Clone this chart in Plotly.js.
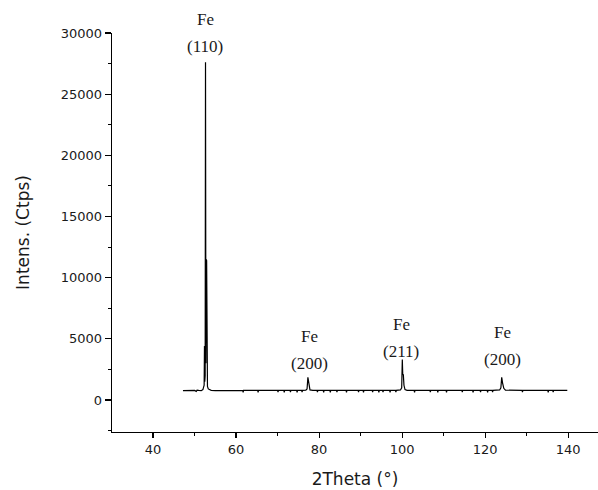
<!DOCTYPE html>
<html>
<head>
<meta charset="utf-8">
<script src="https://cdn.plot.ly/plotly-3.0.1.min.js"></script>
<style>html,body{margin:0;padding:0;background:#fff;}#chart{width:598px;height:490px;}</style>
</head>
<body>
<div id="chart"></div>
<script>
// 2Theta (degrees) and intensity (counts per second)
var twoTheta = [47.2, 48.0, 49.0, 50.0, 50.4, 50.6, 51.0, 51.6, 52.0, 52.2, 52.3, 52.38, 52.45, 52.55, 52.63, 52.72, 52.82, 52.9, 52.98, 53.1, 53.3, 53.6, 54.0, 55.0, 56.0, 58.0, 60.0, 61.6, 61.7, 61.8, 63.0, 65.2, 65.3, 65.4, 67.0, 69.0, 70.0, 70.1, 70.2, 71.5, 71.6, 71.7, 73.0, 73.1, 73.2, 74.6, 74.7, 74.8, 75.8, 75.9, 76.0, 76.8, 77.1, 77.3, 77.45, 77.6, 77.8, 78.5, 79.5, 79.6, 79.7, 81.0, 81.1, 81.2, 82.6, 82.7, 82.8, 84.2, 84.3, 84.4, 86.5, 86.6, 86.7, 88.0, 89.4, 89.5, 89.6, 90.6, 90.7, 90.8, 92.0, 92.8, 92.9, 93.0, 94.3, 94.4, 94.5, 95.3, 95.4, 95.5, 96.5, 97.0, 97.1, 97.2, 98.4, 98.5, 98.6, 99.2, 99.6, 99.9, 100.05, 100.15, 100.3, 100.45, 100.7, 101.2, 102.0, 102.9, 103.0, 103.1, 104.5, 106.7, 106.8, 106.9, 108.5, 108.6, 108.7, 110.6, 110.7, 110.8, 112.5, 114.4, 114.5, 114.6, 116.0, 117.0, 117.1, 117.2, 118.8, 118.9, 119.0, 120.5, 120.6, 120.7, 121.7, 121.8, 121.9, 122.8, 123.5, 123.8, 124.0, 124.2, 124.5, 124.9, 126.0, 127.5, 128.9, 129.0, 129.1, 131.0, 133.0, 135.1, 135.2, 135.3, 136.3, 136.4, 136.5, 138.0, 139.8];
var intensity = [770, 780, 775, 780, 700, 800, 780, 760, 850, 1000, 1200, 4400, 1500, 2000, 27600, 3000, 11500, 11400, 1500, 1100, 900, 820, 780, 770, 780, 775, 780, 780, 620, 780, 775, 780, 630, 780, 775, 780, 780, 640, 780, 780, 620, 780, 780, 640, 780, 780, 620, 780, 780, 650, 780, 800, 900, 1850, 1500, 1000, 820, 780, 780, 640, 780, 780, 620, 780, 780, 630, 780, 780, 640, 780, 780, 620, 780, 775, 780, 640, 780, 780, 630, 780, 780, 780, 640, 780, 780, 620, 780, 780, 650, 780, 780, 780, 620, 780, 780, 640, 780, 800, 820, 1000, 3300, 2100, 2050, 1200, 850, 790, 780, 780, 630, 780, 775, 780, 640, 780, 780, 620, 780, 780, 630, 780, 780, 780, 640, 780, 775, 780, 630, 780, 780, 640, 780, 780, 620, 780, 780, 640, 780, 780, 820, 1000, 1850, 1400, 950, 800, 780, 775, 780, 640, 780, 780, 775, 780, 630, 780, 780, 640, 780, 775, 780];

// Peak labels
var phaseLabels = ['Fe', 'Fe', 'Fe', 'Fe'];
var planeLabels = ['(110)', '(200)', '(211)', '(200)'];
var labelX = [52.6, 77.8, 99.8, 124.3];
var labelY = [28860, 3020, 4000, 3270];

var xTickVals = [40, 60, 80, 100, 120, 140];
var yTickVals = [0, 5000, 10000, 15000, 20000, 25000, 30000];

var labelFont = {family: 'Liberation Serif, Times New Roman, serif', size: 17, color: '#1a1a1a'};
var annotations = [];
for (var i = 0; i < labelX.length; i++) {
  annotations.push({x: labelX[i], y: labelY[i], xref: 'x', yref: 'y', text: phaseLabels[i],
    yshift: 27, showarrow: false, font: labelFont});
  annotations.push({x: labelX[i], y: labelY[i], xref: 'x', yref: 'y', text: planeLabels[i],
    showarrow: false, font: labelFont});
}

var trace = {
  x: twoTheta, y: intensity, type: 'scatter', mode: 'lines',
  line: {color: '#000', width: 1.2}, hoverinfo: 'skip'
};

var axisFont = {family: 'DejaVu Sans, sans-serif', size: 13, color: '#1a1a1a'};
var layout = {
  width: 598, height: 490,
  margin: {l: 112, r: 0, t: 33, b: 58},
  paper_bgcolor: '#fff', plot_bgcolor: '#fff',
  showlegend: false,
  xaxis: {
    range: [30.1, 147.2], tickvals: xTickVals, ticks: 'outside', ticklen: 5, tickwidth: 1.2, tickcolor: '#000',
    minor: {dtick: 10, tick0: 30, ticks: 'outside', ticklen: 3, tickwidth: 1, tickcolor: '#000'},
    showline: true, linecolor: '#000', linewidth: 1.3, showgrid: false, zeroline: false,
    tickfont: axisFont,
    title: {text: '2Theta (°)', font: {family: 'DejaVu Sans, sans-serif', size: 17, color: '#1a1a1a'}, standoff: 17}
  },
  yaxis: {
    range: [-2620, 30000], tickvals: yTickVals, tickformat: 'd', ticks: 'outside', ticklen: 6, tickwidth: 1.2, tickcolor: '#000',
    minor: {dtick: 2500, tick0: 0, ticks: 'outside', ticklen: 3, tickwidth: 1, tickcolor: '#000'},
    showline: true, linecolor: '#000', linewidth: 1.3, showgrid: false, zeroline: false,
    tickfont: axisFont,
    title: {text: 'Intens. (Ctps)', font: {family: 'DejaVu Sans, sans-serif', size: 17, color: '#1a1a1a'}, standoff: 26}
  },
  annotations: annotations
};

Plotly.newPlot('chart', [trace], layout, {displayModeBar: false, staticPlot: true});
</script>
</body>
</html>
